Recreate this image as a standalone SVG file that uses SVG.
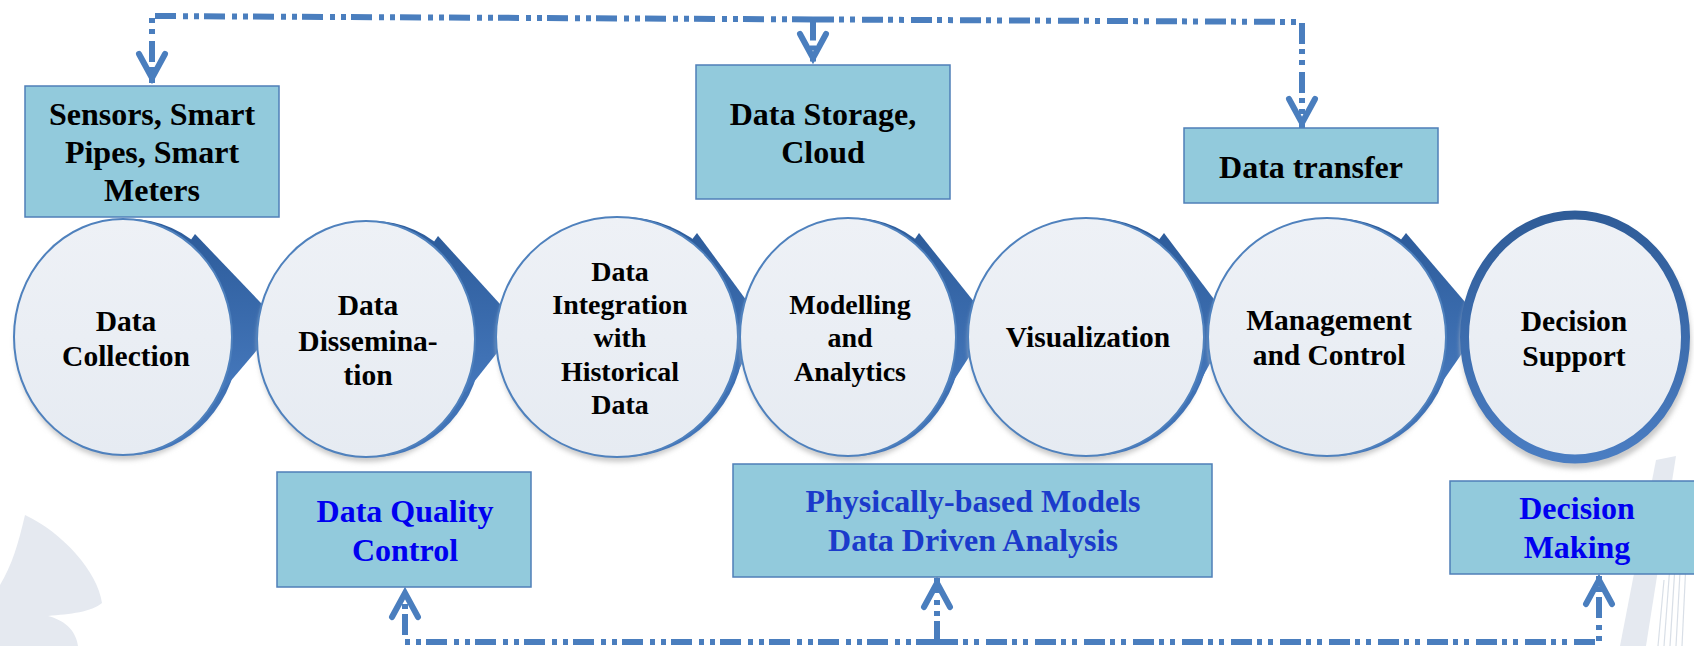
<svg xmlns="http://www.w3.org/2000/svg" width="1694" height="646" viewBox="0 0 1694 646">
  <defs>
    <style>
      .t { font-family: "Liberation Serif", "Times New Roman", serif; font-weight: bold; text-anchor: middle; fill: #000; }
      .tb { font-size: 32px; }
      .tc { font-size: 29.5px; }
      .ts { font-size: 28px; }
      .blue { fill: #0000F0; }
      .royal { fill: #1B3BCB; }
      .bx { fill: #92CADC; stroke: #4F7FB8; stroke-width: 1.5; }
      .lite { fill: url(#liteFill); stroke: #4F81BD; stroke-width: 2; }
      .dark { fill: url(#darkFill); }
      .shadow { fill: #C9C9C9; filter: url(#soft); }
      .con { fill: none; stroke: #4A7EBE; stroke-width: 6; stroke-dasharray: 21 5 5 6 5 7; }
      .wm { fill: #E5E9F0; }
      .str { stroke: #D9DFE7; stroke-width: 1.2; }
    </style>
    <linearGradient id="liteFill" x1="0" y1="0" x2="0" y2="1">
      <stop offset="0" stop-color="#EEF1F6"/>
      <stop offset="1" stop-color="#E6EBF2"/>
    </linearGradient>
    <linearGradient id="darkFill" x1="0" y1="0" x2="0" y2="1">
      <stop offset="0" stop-color="#2D5C9B"/>
      <stop offset="1" stop-color="#4578BC"/>
    </linearGradient>
    <linearGradient id="ringStroke" x1="0" y1="0" x2="0" y2="1">
      <stop offset="0" stop-color="#2F5C98"/>
      <stop offset="1" stop-color="#4A7DC2"/>
    </linearGradient>
    <filter id="soft" x="-10%" y="-10%" width="120%" height="120%">
      <feGaussianBlur stdDeviation="2.5"/>
    </filter>
    <marker id="chev" markerUnits="userSpaceOnUse" viewBox="-32 -20 40 40" markerWidth="40" markerHeight="40" refX="0" refY="0" orient="auto" overflow="visible">
      <path d="M -29 -13 L -5 0 L -29 13" fill="none" stroke="#4A7EBE" stroke-width="6" stroke-linecap="round" stroke-linejoin="miter"/>
    </marker>
  </defs>

  <rect width="1694" height="646" fill="#FFFFFF"/>

  <!-- faint background emblems -->
  <g id="emblem-left">
    <path class="wm" d="M 25 515 C 18 545 12 565 0 585 L 0 646 L 78 646 C 76 630 64 620 48 616 C 70 614 92 612 102 603 C 98 572 62 532 25 515 Z"/>
  </g>
  <g id="emblem-right">
    <path class="wm" d="M 1656 460 L 1676 456 L 1646 646 L 1620 646 Z"/>
    <g class="str">
      <line x1="1664" y1="580" x2="1658" y2="646"/>
      <line x1="1670" y1="565" x2="1664" y2="646"/>
      <line x1="1676" y1="550" x2="1670" y2="646"/>
      <line x1="1682" y1="535" x2="1676" y2="646"/>
      <line x1="1688" y1="520" x2="1682" y2="646"/>
    </g>
  </g>

  <!-- dash-dot feedback lines -->
  <g id="connectors">
    <path class="con" d="M 813 19.4 L 152 16 V 83" marker-end="url(#chev)"/>
    <path class="con" d="M 813 19.4 L 1302 22 V 128" marker-end="url(#chev)"/>
    <path class="con" d="M 813 19.4 V 63" marker-end="url(#chev)"/>
    <path class="con" d="M 937 642 L 405 642 V 588" marker-end="url(#chev)"/>
    <path class="con" d="M 937 642 L 1599 642 V 575" marker-end="url(#chev)"/>
    <path class="con" d="M 937 642 V 578" marker-end="url(#chev)"/>
  </g>

  <!-- upper boxes -->
  <g id="sensors">
    <rect class="bx" x="25" y="86" width="254" height="131"/>
    <text class="t tb" x="152" y="125">Sensors, Smart</text>
    <text class="t tb" x="152" y="163">Pipes, Smart</text>
    <text class="t tb" x="152" y="201">Meters</text>
  </g>
  <g id="storage">
    <rect class="bx" x="696" y="65" width="254" height="134"/>
    <text class="t tb" x="823" y="125">Data Storage,</text>
    <text class="t tb" x="823" y="163">Cloud</text>
  </g>
  <g id="transfer">
    <rect class="bx" x="1184" y="128" width="254" height="75"/>
    <text class="t tb" x="1311" y="178">Data transfer</text>
  </g>

  <!-- process chain -->
  <g id="collection">
    <ellipse class="shadow" cx="124" cy="342" rx="109" ry="118"/>
    <ellipse class="dark" cx="130" cy="337" rx="109" ry="118"/>
    <polygon class="dark" points="195,234 280,323 223,390 123,337"/>
    <ellipse class="lite" cx="123" cy="337" rx="109" ry="118"/>
    <text class="t tc" x="126" y="331">Data</text>
    <text class="t tc" x="126" y="366">Collection</text>
  </g>
  <g id="dissemination">
    <ellipse class="shadow" cx="367" cy="344" rx="109" ry="118"/>
    <ellipse class="dark" cx="373" cy="339" rx="109" ry="118"/>
    <polygon class="dark" points="438,236 519,325 466,392 366,339"/>
    <ellipse class="lite" cx="366" cy="339" rx="109" ry="118"/>
    <text class="t tc" x="368" y="315">Data</text>
    <text class="t tc" x="368" y="351">Dissemina-</text>
    <text class="t tc" x="368" y="385">tion</text>
  </g>
  <g id="integration">
    <ellipse class="shadow" cx="618" cy="342" rx="121" ry="120"/>
    <ellipse class="dark" cx="623" cy="337" rx="121" ry="120"/>
    <polygon class="dark" points="697,233 763,323 728,391 617,337"/>
    <ellipse class="lite" cx="617" cy="337" rx="121" ry="120"/>
    <text class="t ts" x="620" y="281">Data</text>
    <text class="t ts" x="620" y="314">Integration</text>
    <text class="t ts" x="620" y="347">with</text>
    <text class="t ts" x="620" y="381">Historical</text>
    <text class="t ts" x="620" y="414">Data</text>
  </g>
  <g id="modelling">
    <ellipse class="shadow" cx="849" cy="342" rx="108" ry="119"/>
    <ellipse class="dark" cx="854" cy="337" rx="108" ry="119"/>
    <polygon class="dark" points="919,233 991,323 947,391 848,337"/>
    <ellipse class="lite" cx="848" cy="337" rx="108" ry="119"/>
    <text class="t ts" x="850" y="314">Modelling</text>
    <text class="t ts" x="850" y="347">and</text>
    <text class="t ts" x="850" y="381">Analytics</text>
  </g>
  <g id="visualization">
    <ellipse class="shadow" cx="1087" cy="342" rx="118" ry="119"/>
    <ellipse class="dark" cx="1092" cy="337" rx="118" ry="119"/>
    <polygon class="dark" points="1164,233 1232,323 1195,391 1086,337"/>
    <ellipse class="lite" cx="1086" cy="337" rx="118" ry="119"/>
    <text class="t tc" x="1088" y="347">Visualization</text>
  </g>
  <g id="management">
    <ellipse class="shadow" cx="1328" cy="342" rx="119" ry="119"/>
    <ellipse class="dark" cx="1333" cy="337" rx="119" ry="119"/>
    <polygon class="dark" points="1406,233 1483,323 1436,391 1327,337"/>
    <ellipse class="lite" cx="1327" cy="337" rx="119" ry="119"/>
    <text class="t tc" x="1329" y="330">Management</text>
    <text class="t tc" x="1329" y="365">and Control</text>
  </g>
  <g id="decision-support">
    <ellipse class="shadow" cx="1576" cy="343" rx="115" ry="126"/>
    <ellipse cx="1575" cy="337" rx="110.5" ry="122" fill="url(#liteFill)" stroke="url(#ringStroke)" stroke-width="9"/>
    <text class="t tc" x="1574" y="331">Decision</text>
    <text class="t tc" x="1574" y="366">Support</text>
  </g>

  <!-- lower boxes -->
  <g id="quality">
    <rect class="bx" x="277" y="472" width="254" height="115"/>
    <text class="t tb blue" x="405" y="522">Data Quality</text>
    <text class="t tb blue" x="405" y="561">Control</text>
  </g>
  <g id="models">
    <rect class="bx" x="733" y="464" width="479" height="113"/>
    <text class="t tb royal" x="973" y="512">Physically-based Models</text>
    <text class="t tb royal" x="973" y="551">Data Driven Analysis</text>
  </g>
  <g id="decision-making">
    <rect class="bx" x="1450" y="481" width="254" height="93"/>
    <text class="t tb blue" x="1577" y="519">Decision</text>
    <text class="t tb blue" x="1577" y="558">Making</text>
  </g>
</svg>
